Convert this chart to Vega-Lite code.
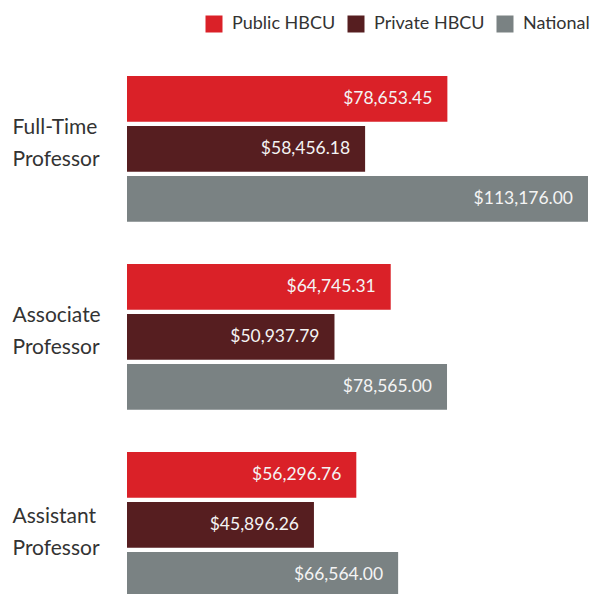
{
  "$schema": "https://vega.github.io/schema/vega-lite/v6.json",
  "autosize": "none",
  "width": 461,
  "height": 521.7,
  "padding": {"left": 127, "top": 76, "right": 7, "bottom": 0},
  "config": {"font": "Lato", "view": {"stroke": null}},
  "data": {
    "values": [
      {"rank": "Full-Time Professor", "type": "Public HBCU", "salary": 78653.45},
      {"rank": "Full-Time Professor", "type": "Private HBCU", "salary": 58456.18},
      {"rank": "Full-Time Professor", "type": "National", "salary": 113176.00},
      {"rank": "Associate Professor", "type": "Public HBCU", "salary": 64745.31},
      {"rank": "Associate Professor", "type": "Private HBCU", "salary": 50937.79},
      {"rank": "Associate Professor", "type": "National", "salary": 78565.00},
      {"rank": "Assistant Professor", "type": "Public HBCU", "salary": 56296.76},
      {"rank": "Assistant Professor", "type": "Private HBCU", "salary": 45896.26},
      {"rank": "Assistant Professor", "type": "National", "salary": 66564.00}
    ]
  },
  "encoding": {
    "y": {
      "field": "rank", "type": "nominal",
      "sort": ["Full-Time Professor", "Associate Professor", "Assistant Professor"],
      "scale": {"paddingInner": 0.225, "paddingOuter": 0},
      "axis": {
        "title": null, "ticks": false, "domain": false,
        "labelAlign": "left", "labelPadding": 115, "labelFontSize": 21,
        "labelLineHeight": 32, "labelColor": "#333333",
        "labelOffset": {"condition": {"test": "datum.value === 'Assistant Professor'", "value": -8}, "value": -21},
        "labelExpr": "split(datum.label, ' ')"
      }
    },
    "yOffset": {
      "field": "type", "type": "nominal",
      "sort": ["Public HBCU", "Private HBCU", "National"],
      "scale": {"paddingInner": 0.086, "paddingOuter": 0}
    },
    "x": {
      "field": "salary", "type": "quantitative",
      "scale": {"domain": [0, 113176], "nice": false},
      "axis": null
    }
  },
  "layer": [
    {
      "mark": {"type": "bar"},
      "encoding": {
        "color": {
          "field": "type", "type": "nominal",
          "sort": ["Public HBCU", "Private HBCU", "National"],
          "scale": {"domain": ["Public HBCU", "Private HBCU", "National"], "range": ["#DA2128", "#561E20", "#7A8283"]},
          "legend": {
            "title": null, "orient": "none", "direction": "horizontal",
            "legendX": 78, "legendY": -61,
            "symbolType": "square", "symbolSize": 289, "symbolStrokeWidth": 0,
            "symbolOpacity": 1,
            "labelFontSize": 18, "labelColor": "#333333", "labelOffset": 9,
            "columnPadding": 11
          }
        }
      }
    },
    {
      "mark": {"type": "text", "align": "right", "baseline": "middle", "dx": -15, "fontSize": 17.5, "color": "#F4F4F4"},
      "encoding": {
        "text": {"field": "salary", "type": "quantitative", "format": "$,.2f"}
      }
    }
  ]
}
